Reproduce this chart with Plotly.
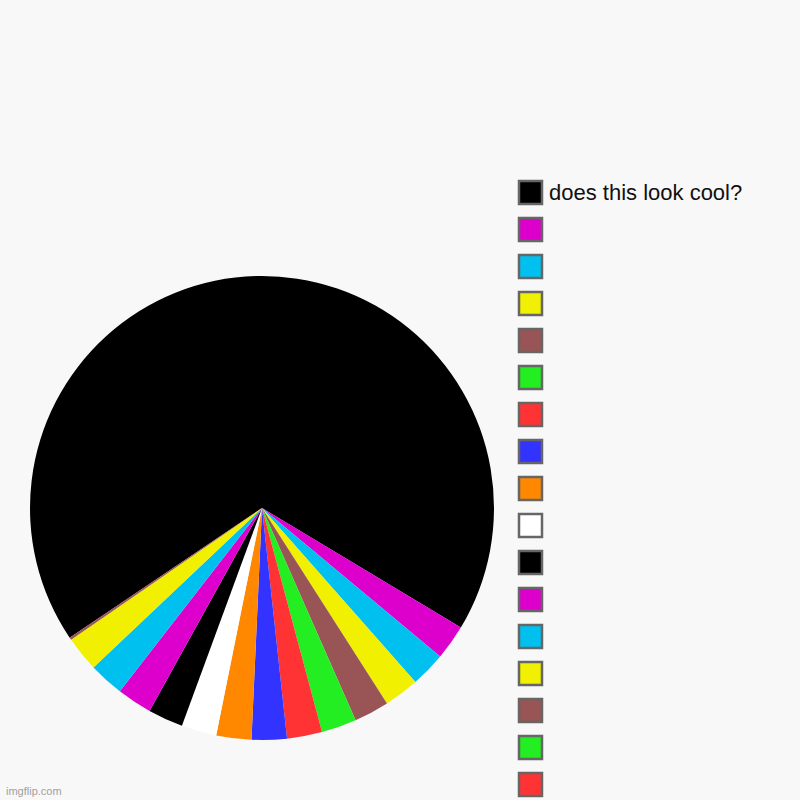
import plotly.graph_objects as go

# ---- data ----
labels = ["does this look cool?"] + ["\u200b" * i for i in range(1, 17)]
values = [27.85, 1, 1, 1, 1, 1, 1, 1, 1, 1, 1, 1, 1, 1, 0.07, 0, 0]
colors = ["#000000", "#DD00CC", "#00C0F0", "#F0F000", "#995555", "#22EE22",
          "#FF3333", "#3333FF", "#FF8800", "#FFFFFF", "#000000", "#DD00CC",
          "#00C0F0", "#F0F000", "#995555", "#22EE22", "#FF3333"]
legend_text = ["does this look cool?"] + [""] * 16

W, H = 800, 800
fig = go.Figure(go.Pie(
    labels=labels, values=values, sort=False, direction="clockwise",
    rotation=236, marker=dict(colors=colors, line=dict(width=0)),
    textinfo="none", hoverinfo="label+value", showlegend=False,
    domain=dict(x=[30 / W, 494 / W], y=[1 - 740 / H, 1 - 276 / H]),
))

# custom legend (layout decoration)
shapes, annots = [], []
for i, (c, t) in enumerate(zip(colors, legend_text)):
    top = 181 + 37 * i
    shapes.append(dict(type="rect", xref="paper", yref="paper",
                       x0=519 / W, x1=542 / W, y0=1 - (top + 23) / H, y1=1 - top / H,
                       fillcolor=c, line=dict(color="#666666", width=2.5)))
    if t:
        annots.append(dict(text=t, xref="paper", yref="paper", x=547 / W,
                           y=1 - (top + 11.5) / H, xanchor="left", yanchor="middle",
                           showarrow=False,
                           font=dict(family="Liberation Sans, Arial", size=22, color="#111111")))
annots.append(dict(text="imgflip.com", xref="paper", yref="paper", x=4 / W, y=1 - 791 / H,
                   xanchor="left", yanchor="middle", showarrow=False,
                   font=dict(family="Liberation Sans, Arial", size=11, color="#a0a0a0")))

fig.update_layout(width=W, height=H, margin=dict(l=0, r=0, t=0, b=0),
                  paper_bgcolor="#F8F8F8", plot_bgcolor="#F8F8F8",
                  shapes=shapes, annotations=annots, showlegend=False)
fig.write_html("out.html", config={"displayModeBar": False},
               post_script="document.body.style.margin='0';document.body.style.background='#F8F8F8';document.body.style.overflow='hidden';")
